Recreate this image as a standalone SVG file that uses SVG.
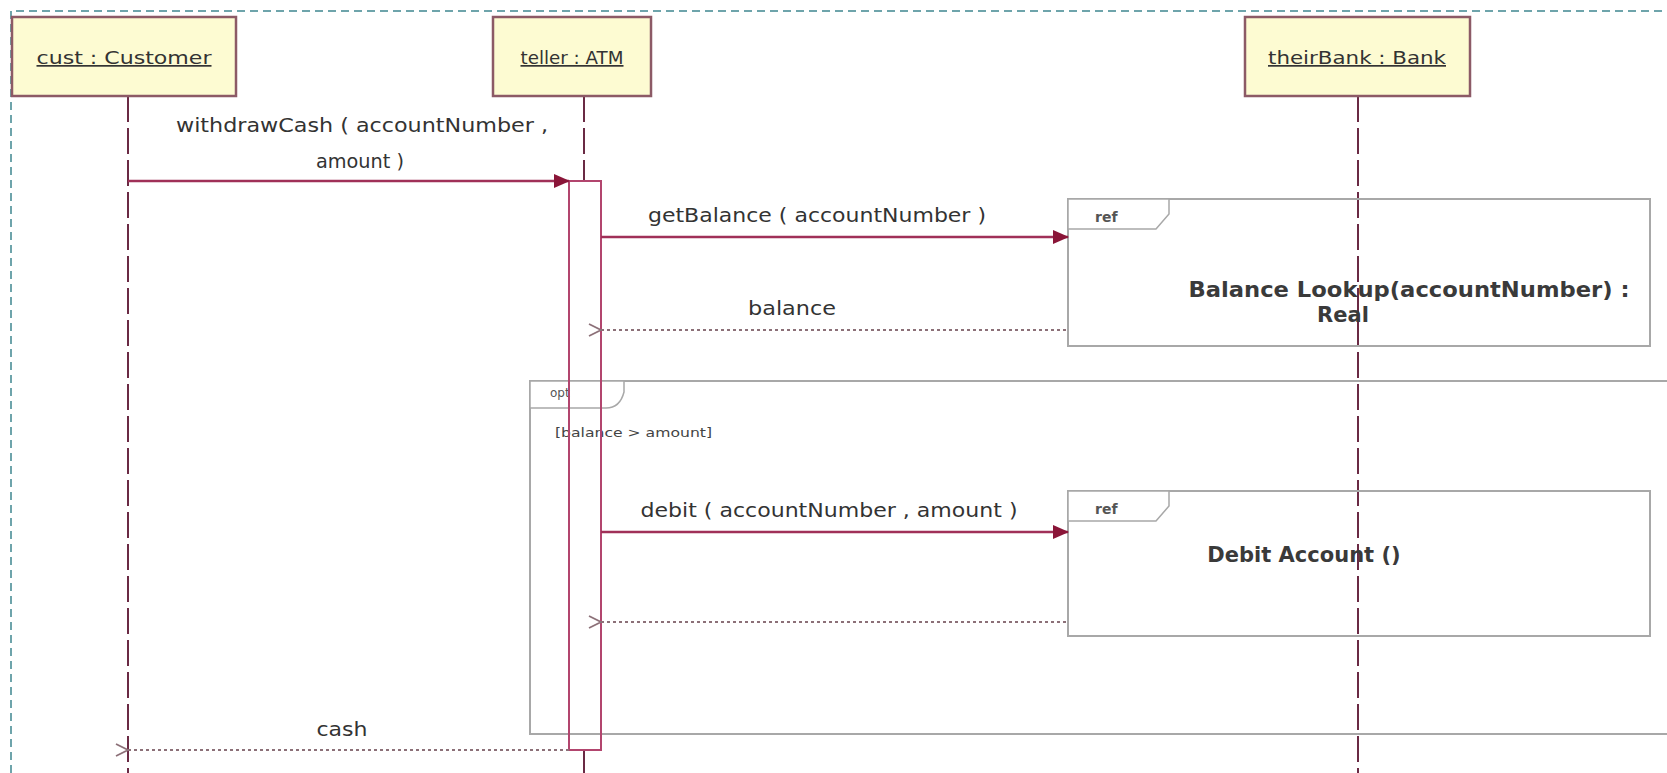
<svg xmlns="http://www.w3.org/2000/svg" width="1667" height="773" viewBox="0 0 1667 773">
<defs>
<style>
.bg{fill:#ffffff}
.border{fill:none;stroke:#3f8690;stroke-width:1.5;stroke-dasharray:8 5}
.obj{fill:#fdfbd2;stroke:#8c5a66;stroke-width:2.5}
.objt{font-family:"DejaVu Sans",sans-serif;font-size:17px;fill:#333;text-decoration:underline}
.life{stroke:#6a2a44;stroke-width:2;stroke-dasharray:26 6;fill:none}
.act{fill:none;stroke:#b2456e;stroke-width:2}
.msg{stroke:#a03058;stroke-width:2.5;fill:none}
.ret{stroke:#8c7078;stroke-width:2;stroke-dasharray:3 3;fill:none}
.lbl{font-family:"DejaVu Sans",sans-serif;font-size:20px;fill:#333}
.frame{fill:none;stroke:#a8a8a8;stroke-width:2}
.tab{fill:#ffffff;stroke:#a8a8a8;stroke-width:1.5}
.tabt{font-family:"DejaVu Sans",sans-serif;font-size:14px;font-weight:bold;fill:#555}
.optt{font-family:"DejaVu Sans",sans-serif;font-size:12px;fill:#555}
.reft{font-family:"DejaVu Sans",sans-serif;font-size:21px;font-weight:bold;fill:#3a3a3a}
.guard{font-family:"DejaVu Sans",sans-serif;font-size:12px;fill:#444}
</style>
<marker id="fill" markerWidth="16" markerHeight="14" refX="15" refY="7" orient="auto" markerUnits="userSpaceOnUse">
<path d="M0,0 L16,7 L0,14 Z" fill="#8a1538"/>
</marker>
<marker id="open" markerWidth="16" markerHeight="14" refX="1" refY="7" orient="auto-start-reverse" markerUnits="userSpaceOnUse">
<path d="M13,1 L1,7 L13,13" fill="none" stroke="#8c7078" stroke-width="1.8"/>
</marker>
</defs>
<rect class="bg" x="0" y="0" width="1667" height="773"/>
<path class="border" d="M11,773 L11,11 L1667,11"/>

<g id="opt-frame">
<rect class="frame" x="530" y="381" width="1150" height="353"/>
<path class="tab" d="M530,381 L624,381 L624,392 Q620,408 606,408 L530,408 Z"/>
<text class="optt" x="550" y="397">opt</text>
<text class="guard" x="555" y="437" textLength="157" lengthAdjust="spacingAndGlyphs">[balance &gt; amount]</text>
</g>

<g id="lifelines">
<line class="life" x1="128" y1="96" x2="128" y2="773"/>
<line class="life" x1="584" y1="96" x2="584" y2="181"/>
<line class="life" x1="584" y1="750" x2="584" y2="773"/>
<line class="life" x1="1358" y1="96" x2="1358" y2="773"/>
</g>

<g id="cust">
<rect class="obj" x="12" y="17" width="224" height="79"/>
<text class="objt" x="124" y="64" text-anchor="middle" textLength="175" lengthAdjust="spacingAndGlyphs">cust : Customer</text>
</g>
<g id="teller">
<rect class="obj" x="493" y="17" width="158" height="79"/>
<text class="objt" x="572" y="64" text-anchor="middle" textLength="103" lengthAdjust="spacingAndGlyphs">teller : ATM</text>
</g>
<g id="theirBank">
<rect class="obj" x="1245" y="17" width="225" height="79"/>
<text class="objt" x="1357" y="64" text-anchor="middle" textLength="178" lengthAdjust="spacingAndGlyphs">theirBank : Bank</text>
</g>

<g id="activation">
<rect class="act" x="569" y="181" width="32" height="569"/>
</g>

<g id="ref-balance">
<rect class="frame" x="1068" y="199" width="582" height="147"/>
<path class="tab" d="M1068,199 L1169,199 L1169,214 L1156,229 L1068,229 Z"/>
<text class="tabt" x="1095" y="222">ref</text>
<text class="reft" x="1409" y="297" text-anchor="middle" textLength="441" lengthAdjust="spacingAndGlyphs">Balance Lookup(accountNumber) :</text>
<text class="reft" x="1343" y="322" text-anchor="middle">Real</text>
</g>

<g id="ref-debit">
<rect class="frame" x="1068" y="491" width="582" height="145"/>
<path class="tab" d="M1068,491 L1169,491 L1169,506 L1156,521 L1068,521 Z"/>
<text class="tabt" x="1095" y="514">ref</text>
<text class="reft" x="1304" y="562" text-anchor="middle">Debit Account ()</text>
</g>

<g id="connectors">
<line class="msg" x1="128" y1="181" x2="569" y2="181" marker-end="url(#fill)"/>
<text class="lbl" x="362" y="132" text-anchor="middle" textLength="372" lengthAdjust="spacingAndGlyphs">withdrawCash ( accountNumber ,</text>
<text class="lbl" x="360" y="168" text-anchor="middle" textLength="88" lengthAdjust="spacingAndGlyphs">amount )</text>

<line class="msg" x1="601" y1="237" x2="1068" y2="237" marker-end="url(#fill)"/>
<text class="lbl" x="817" y="222" text-anchor="middle" textLength="338" lengthAdjust="spacingAndGlyphs">getBalance ( accountNumber )</text>

<line class="ret" x1="1066" y1="330" x2="601" y2="330" marker-end="url(#open)"/>
<text class="lbl" x="792" y="315" text-anchor="middle" textLength="88" lengthAdjust="spacingAndGlyphs">balance</text>

<line class="msg" x1="601" y1="532" x2="1068" y2="532" marker-end="url(#fill)"/>
<text class="lbl" x="829" y="517" text-anchor="middle" textLength="377" lengthAdjust="spacingAndGlyphs">debit ( accountNumber , amount )</text>

<line class="ret" x1="1066" y1="622" x2="601" y2="622" marker-end="url(#open)"/>

<line class="ret" x1="569" y1="750" x2="128" y2="750" marker-end="url(#open)"/>
<text class="lbl" x="342" y="736" text-anchor="middle" textLength="51" lengthAdjust="spacingAndGlyphs">cash</text>
</g>
</svg>
